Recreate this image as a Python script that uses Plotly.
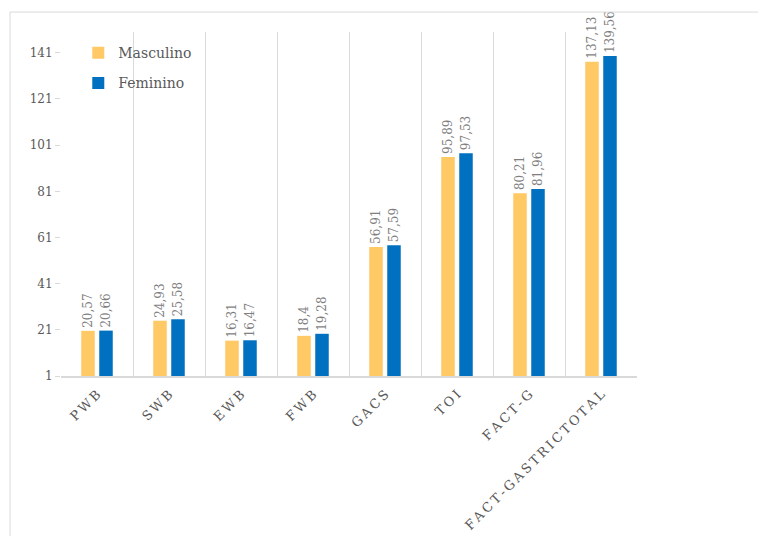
import plotly.graph_objects as go

categories = ["PWB", "SWB", "EWB", "FWB", "GACS", "TOI", "FACT-G", "FACT-GASTRICTOTAL"]
tick_labels = ["\u2009".join(c) for c in categories]
masculino = [20.57, 24.93, 16.31, 18.4, 56.91, 95.89, 80.21, 137.13]
feminino = [20.66, 25.58, 16.47, 19.28, 57.59, 97.53, 81.96, 139.56]
series_names = ["Masculino", "Feminino"]
colors = ["#FFC966", "#0070C0"]

def fmt(v):
    s = ("%.2f" % v).rstrip("0").rstrip(".")
    return s.replace(".", ",")

FONT = "DejaVu Serif"

fig = go.Figure()
for i, (name, vals) in enumerate(zip(series_names, [masculino, feminino])):
    fig.add_trace(go.Bar(
        x=categories, y=vals, name=name,
        marker=dict(color=colors[i], line=dict(width=0)),
        text=[fmt(v) for v in vals],
        textposition="outside", textangle=-90, constraintext="none",
        textfont=dict(family=FONT, size=12, color="#7F7F7F"),
        cliponaxis=False, legendgroup=name,
    ))

fig.update_layout(
    width=758, height=536,
    margin=dict(l=61, r=121, t=32, b=160, autoexpand=False),
    paper_bgcolor="white", plot_bgcolor="white",
    barmode="group", bargap=0.5, bargroupgap=0.25,
    font=dict(family=FONT, color="#595959"),
    legend=dict(x=0.03, y=0.985, xanchor="left", yanchor="top",
                font=dict(family=FONT, size=14, color="#595959"),
                itemwidth=30,
                tracegroupgap=9, bgcolor="rgba(0,0,0,0)"),
    xaxis=dict(type="category", tickson="boundaries", showgrid=True,
               gridcolor="#D9D9D9", gridwidth=1, automargin=False,
               tickvals=categories, ticktext=tick_labels,
               tickangle=-45, ticklabelstandoff=4,
               tickfont=dict(family=FONT, size=13, color="#595959"),
               showline=True, linecolor="#D9D9D9", linewidth=1.5, ticks=""),
    yaxis=dict(range=[1, 150], tick0=1, dtick=20, showgrid=False, zeroline=False,
               automargin=False,
               ticks="outside", ticklen=5, tickcolor="#D9D9D9",
               tickfont=dict(family=FONT, size=12, color="#595959"),
               showline=False),
    shapes=[
        dict(type="line", xref="paper", yref="paper", x0=-0.0885, x1=1.3, y0=1.058, y1=1.058,
             line=dict(color="#D9D9D9", width=1)),
        dict(type="line", xref="paper", yref="paper", x0=-0.0885, x1=-0.0885, y0=1.058, y1=-0.6,
             line=dict(color="#D9D9D9", width=1)),
    ],
)

fig.write_html("out.html")
